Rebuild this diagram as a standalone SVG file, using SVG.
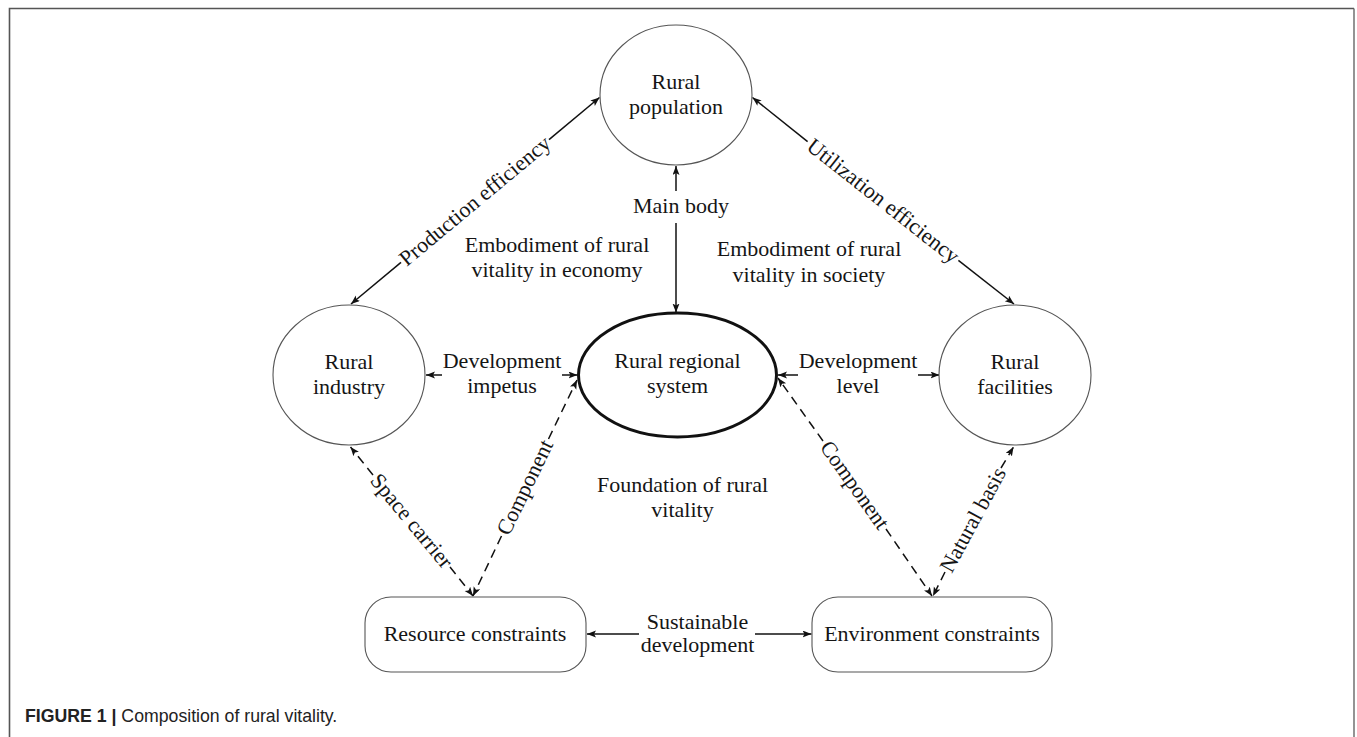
<svg xmlns="http://www.w3.org/2000/svg" width="1357" height="737" viewBox="0 0 1357 737">
<style>
.t{font-family:"Liberation Serif","Times New Roman",serif;font-size:22px;fill:#151515;text-anchor:middle}
.node{fill:#fff;stroke:#555;stroke-width:1.1}
.c{stroke:#111;stroke-width:1.5;fill:none}
.d{stroke:#111;stroke-width:1.5;fill:none;stroke-dasharray:9 6}
.cap{font-family:"Liberation Sans",Arial,sans-serif;font-size:17.7px;fill:#222}
</style>
<defs>
<marker id="ah" markerUnits="userSpaceOnUse" markerWidth="12" markerHeight="10" refX="9" refY="3.5" orient="auto-start-reverse">
<path d="M0,0 L9,3.5 L0,7 L2,3.5 z" fill="#111"/>
</marker>
</defs>
<rect width="1357" height="737" fill="#fff"/>
<path d="M9.5,760 V8.5 H1354" fill="none" stroke="#555" stroke-width="1.6"/>
<path d="M1354,8.5 V760" fill="none" stroke="#666" stroke-width="1.4"/>

<g id="connectors">
<line class="c" x1="401" y1="262.4" x2="351" y2="304" marker-end="url(#ah)"/>
<line class="c" x1="549" y1="139.6" x2="599.5" y2="97.5" marker-end="url(#ah)"/>
<text class="t" transform="translate(475,201) rotate(-39.8)" y="7">Production efficiency</text>

<line class="c" x1="807.6" y1="141.6" x2="752.5" y2="97.5" marker-end="url(#ah)"/>
<line class="c" x1="958.4" y1="260.4" x2="1014" y2="304" marker-end="url(#ah)"/>
<text class="t" transform="translate(883,201) rotate(38.2)" y="7">Utilization efficiency</text>

<line class="c" x1="676" y1="191" x2="676" y2="166" marker-end="url(#ah)"/>
<line class="c" x1="676" y1="223" x2="676" y2="312.5" marker-end="url(#ah)"/>
<text class="t" x="681" y="213">Main body</text>

<line class="c" x1="442" y1="375" x2="426" y2="375" marker-end="url(#ah)"/>
<line class="c" x1="562" y1="375" x2="577.5" y2="375" marker-end="url(#ah)"/>
<text class="t" x="502" y="368">Development</text>
<text class="t" x="502" y="393">impetus</text>

<line class="c" x1="798" y1="375" x2="778" y2="375" marker-end="url(#ah)"/>
<line class="c" x1="918" y1="375" x2="939.5" y2="375" marker-end="url(#ah)"/>
<text class="t" x="858" y="368">Development</text>
<text class="t" x="858" y="393">level</text>

<line class="c" x1="639" y1="634" x2="587" y2="634" marker-end="url(#ah)"/>
<line class="c" x1="755" y1="634" x2="811.5" y2="634" marker-end="url(#ah)"/>
<text class="t" x="697.5" y="629">Sustainable</text>
<text class="t" x="697.5" y="652">development</text>

<line class="d" x1="373" y1="475" x2="350.5" y2="447" marker-end="url(#ah)"/>
<line class="d" x1="450" y1="567" x2="473" y2="596" marker-end="url(#ah)"/>
<text class="t" transform="translate(411.5,521) rotate(50.3)" y="7">Space carrier</text>

<line class="d" x1="548.5" y1="439" x2="577" y2="380" marker-end="url(#ah)"/>
<line class="d" x1="501.5" y1="536" x2="473" y2="596" marker-end="url(#ah)"/>
<text class="t" transform="translate(525,487.5) rotate(-64.2)" y="7">Component</text>

<line class="d" x1="823" y1="441" x2="778" y2="378" marker-end="url(#ah)"/>
<line class="d" x1="886" y1="529" x2="932" y2="596" marker-end="url(#ah)"/>
<text class="t" transform="translate(854.5,485) rotate(54.7)" y="7">Component</text>

<line class="d" x1="1001" y1="468" x2="1013.5" y2="447" marker-end="url(#ah)"/>
<line class="d" x1="945" y1="572" x2="933" y2="596" marker-end="url(#ah)"/>
<text class="t" transform="translate(973,520) rotate(-61.6)" y="7">Natural basis</text>
</g>

<g id="rural-population">
<ellipse class="node" cx="676" cy="95" rx="76" ry="70"/>
<text class="t" x="676" y="89">Rural</text>
<text class="t" x="676" y="114">population</text>
</g>

<g id="rural-industry">
<ellipse class="node" cx="349" cy="375" rx="76" ry="70"/>
<text class="t" x="349" y="369">Rural</text>
<text class="t" x="349" y="394">industry</text>
</g>

<g id="rural-facilities">
<ellipse class="node" cx="1015" cy="375" rx="76" ry="70"/>
<text class="t" x="1015" y="369">Rural</text>
<text class="t" x="1015" y="394">facilities</text>
</g>

<g id="rural-regional-system">
<ellipse cx="677.5" cy="375" rx="99" ry="62" fill="#fff" stroke="#111" stroke-width="3"/>
<text class="t" x="677.5" y="368">Rural regional</text>
<text class="t" x="677.5" y="393">system</text>
</g>

<g id="resource-constraints">
<rect class="node" x="365" y="597" width="221" height="75" rx="26" ry="26"/>
<text class="t" x="475" y="641">Resource constraints</text>
</g>

<g id="environment-constraints">
<rect class="node" x="812" y="597" width="240" height="75" rx="26" ry="26"/>
<text class="t" x="932" y="641">Environment constraints</text>
</g>

<g id="labels">
<text class="t" x="557" y="252">Embodiment of rural</text>
<text class="t" x="557" y="277">vitality in economy</text>
<text class="t" x="809" y="256">Embodiment of rural</text>
<text class="t" x="809" y="282">vitality in society</text>
<text class="t" x="682.5" y="492">Foundation of rural</text>
<text class="t" x="682.5" y="517">vitality</text>
</g>

<text class="cap" x="25" y="722"><tspan font-weight="bold">FIGURE 1 | </tspan>Composition of rural vitality.</text>
</svg>
